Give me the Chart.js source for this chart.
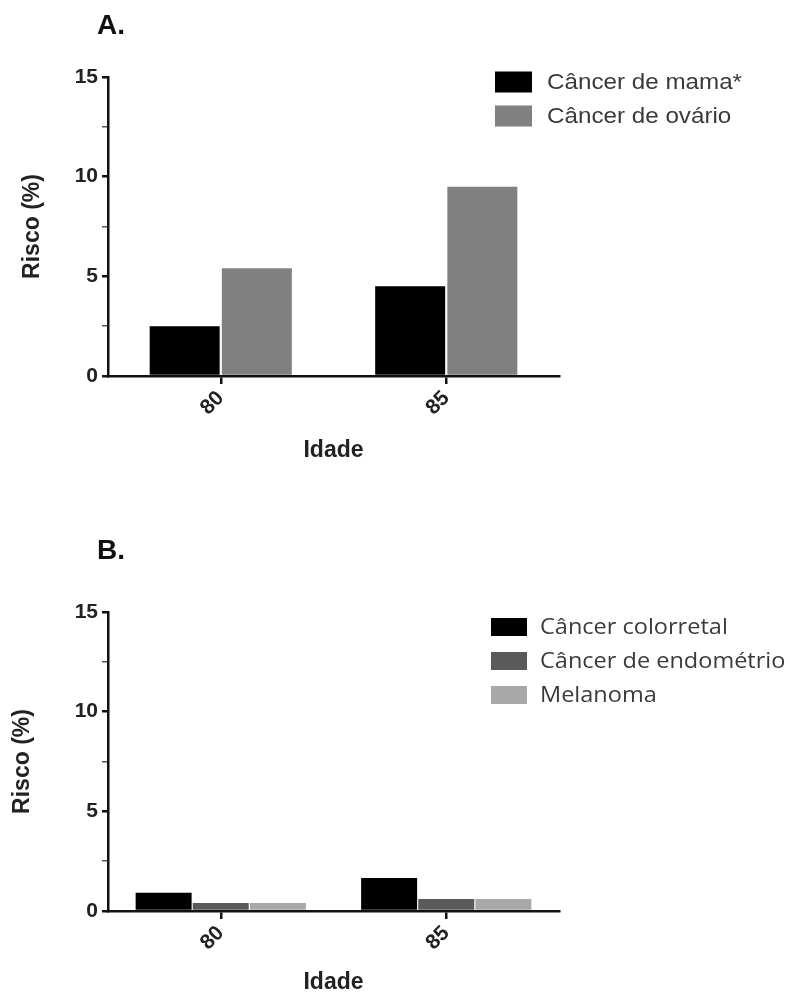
<!DOCTYPE html>
<html>
<head>
<meta charset="utf-8">
<script src="https://cdn.jsdelivr.net/npm/chart.js@4"></script>
<style>
  html, body { margin: 0; padding: 0; background: #fff; }
  body { width: 790px; height: 994px; position: relative; overflow: hidden; }
  .panel { position: absolute; left: 0; width: 790px; }
  .tag { position: absolute; left: 97px; font: bold 28px 'Liberation Sans', Arial, sans-serif; color: #111; line-height: 1; }
</style>
</head>
<body>
<div class="panel" style="top:0;height:470px"><canvas id="chartA" width="790" height="470"></canvas></div>
<div class="panel" style="top:500px;height:494px"><canvas id="chartB" width="790" height="494"></canvas></div>
<div class="tag" style="top:11px">A.</div>
<div class="tag" style="top:536px">B.</div>
<script>
// ── Data ──────────────────────────────────────────────────────────
const ages = ['80', '85'];
const mama = [2.5, 4.5];
const ovario = [5.4, 9.5];
const colorretal = [0.92, 1.65];
const endometrio = [0.4, 0.6];
const melanoma = [0.4, 0.6];
const yMax = 15;
const yStep = 2.5;

Chart.defaults.font.family = "'Liberation Sans', Arial, sans-serif";
Chart.defaults.color = '#222';

// legend drawn at a fixed spot, from the datasets (text slightly widened like the source)
const boxLegend = {
    id: 'boxLegend',
    afterDraw(chart, args, o) {
        const ctx = chart.ctx;
        ctx.save();
        ctx.font = o.font;
        ctx.textBaseline = 'middle';
        chart.data.datasets.forEach((ds, i) => {
            const cy = o.y + i * o.rowH;
            ctx.fillStyle = ds.backgroundColor;
            ctx.fillRect(o.x, cy - o.boxH / 2, o.boxW, o.boxH);
            ctx.save();
            ctx.translate(o.textX, cy + 1);
            ctx.scale(o.stretch, 1);
            ctx.fillStyle = '#3a3a3a';
            ctx.fillText(ds.label, 0, 0);
            ctx.restore();
        });
        ctx.restore();
    }
};

const makeOptions = (cfg) => ({
    responsive: false,
    animation: false,
    layout: { padding: { left: 0, right: 790 - 559, top: cfg.top, bottom: 0 } },
    plugins: {
        legend: { display: false },
        tooltip: { enabled: false },
        boxLegend: cfg.legend,
    },
    scales: {
        x: {
            grid: { display: true, drawOnChartArea: false, offset: false, tickLength: 8, lineWidth: 2.5, color: '#111' },
            border: { display: true, width: 2.5, color: '#111' },
            ticks: { minRotation: 45, maxRotation: 45, padding: 2, font: { size: 21, weight: 'bold' } },
            title: { display: true, text: 'Idade', font: { size: 23, weight: 'bold', lineHeight: 1 }, padding: { top: 0, bottom: cfg.xTitlePad } },
            afterFit: (s) => { s.height = cfg.xHeight; },
        },
        y: {
            min: 0, max: yMax,
            grid: {
                display: true, drawOnChartArea: false, tickLength: 6,
                color: (c) => (c.tick && c.tick.value % 5 === 0 ? '#111' : '#555'),
                lineWidth: (c) => (c.tick && c.tick.value % 5 === 0 ? 2.5 : 1.5),
            },
            border: { display: true, width: 2.5, color: '#111' },
            ticks: {
                stepSize: yStep, padding: 4,
                font: { size: 21, weight: 'bold' },
                callback: (v) => (v % 5 === 0 ? v : ''),
            },
            title: { display: true, text: 'Risco (%)', font: { size: 23, weight: 'bold', lineHeight: 1 }, padding: { top: cfg.yTitlePad, bottom: 0 } },
            afterFit: (s) => { s.width = 108; },
        }
    }
});

// ── Panel A ───────────────────────────────────────────────────────
new Chart(document.getElementById('chartA'), {
    type: 'bar',
    data: {
        labels: ages,
        datasets: [
            { label: 'Câncer de mama*', data: mama, backgroundColor: '#000000' },
            { label: 'Câncer de ovário', data: ovario, backgroundColor: '#808080' },
        ].map(d => ({ ...d, categoryPercentage: 0.64, barPercentage: 0.97 }))
    },
    options: makeOptions({
        top: 77, xHeight: 94, xTitlePad: 8, yTitlePad: 21,
        legend: { x: 495, y: 82, boxW: 37, boxH: 21, rowH: 34, textX: 547, stretch: 1.1, font: "22px 'Liberation Sans', Arial, sans-serif" },
    }),
    plugins: [boxLegend],
});

// ── Panel B ───────────────────────────────────────────────────────
new Chart(document.getElementById('chartB'), {
    type: 'bar',
    data: {
        labels: ages,
        datasets: [
            { label: 'Câncer colorretal', data: colorretal, backgroundColor: '#000000' },
            { label: 'Câncer de endométrio', data: endometrio, backgroundColor: '#5a5a5a' },
            { label: 'Melanoma', data: melanoma, backgroundColor: '#a8a8a8' },
        ].map(d => ({ ...d, categoryPercentage: 0.76, barPercentage: 0.98 }))
    },
    options: makeOptions({
        top: 112, xHeight: 83, xTitlePad: 0, yTitlePad: 11,
        legend: { x: 491, y: 127, boxW: 36, boxH: 18, rowH: 34, textX: 540, stretch: 1.12, font: "21px 'Open Sans', sans-serif" },
    }),
    plugins: [boxLegend],
});
</script>
</body>
</html>
